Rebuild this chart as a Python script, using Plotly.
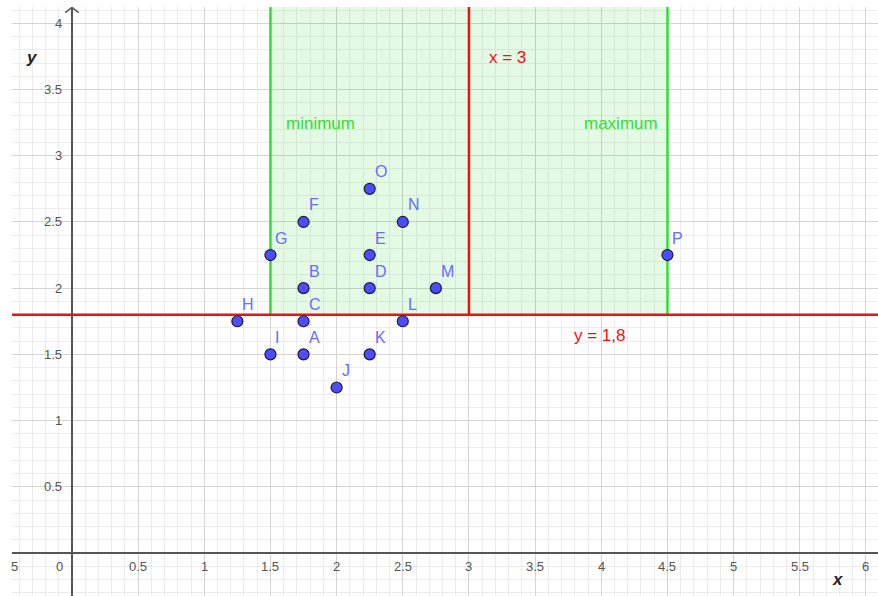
import plotly.graph_objects as go

# ---- data ----
point_names = ["A", "B", "C", "D", "E", "F", "G", "H", "I", "J", "K", "L", "M", "N", "O", "P"]
point_x = [1.75, 1.75, 1.75, 2.25, 2.25, 1.75, 1.5, 1.25, 1.5, 2.0, 2.25, 2.5, 2.75, 2.5, 2.25, 4.5]
point_y = [1.5, 2.0, 1.75, 2.0, 2.25, 2.5, 2.25, 1.75, 1.5, 1.25, 1.5, 1.75, 2.0, 2.5, 2.75, 2.25]

x_minimum = 1.5
x_maximum = 4.5
x_line = 3.0
y_line = 1.8

x_tick_vals = [0.5, 1, 1.5, 2, 2.5, 3, 3.5, 4, 4.5, 5, 5.5, 6]
x_tick_text = ["0.5", "1", "1.5", "2", "2.5", "3", "3.5", "4", "4.5", "5", "5.5", "6"]
y_tick_vals = [0.5, 1, 1.5, 2, 2.5, 3, 3.5, 4]
y_tick_text = ["0.5", "1", "1.5", "2", "2.5", "3", "3.5", "4"]
edge_tick_text = "5"   # visible tail of the "-0.5" label cut by the view edge

X_RANGE = [-0.453, 6.091]
Y_RANGE = [-0.3245, 4.123]
TOP = 10

GREEN = "#33dd33"
RED = "#ee1111"
FONT = "Liberation Sans"

fig = go.Figure()

# shaded region
fig.add_trace(go.Scatter(
    x=[x_minimum, x_maximum, x_maximum, x_minimum],
    y=[y_line, y_line, TOP, TOP],
    fill="toself", fillcolor="rgba(0,210,0,0.10)",
    line=dict(width=0), mode="lines", hoverinfo="skip", showlegend=False))

# green vertical lines
for xv in [x_minimum, x_maximum]:
    fig.add_trace(go.Scatter(x=[xv, xv], y=[y_line, TOP], mode="lines",
                             line=dict(color=GREEN, width=2.5), showlegend=False, hoverinfo="skip"))
# red x = 3
fig.add_trace(go.Scatter(x=[x_line, x_line], y=[y_line, TOP], mode="lines",
                         line=dict(color=RED, width=2.5), showlegend=False, hoverinfo="skip"))
# red y = 1.8
fig.add_trace(go.Scatter(x=[X_RANGE[0] - 1, X_RANGE[1] + 1], y=[y_line, y_line], mode="lines",
                         line=dict(color=RED, width=2.5), showlegend=False, hoverinfo="skip"))

# y-axis arrow
fig.add_trace(go.Scatter(x=[-0.05, 0, 0.05], y=[4.08, 4.12, 4.08], mode="lines",
                         line=dict(color="#555555", width=1.5), showlegend=False, hoverinfo="skip"))

# points
fig.add_trace(go.Scatter(
    x=point_x, y=point_y, mode="markers",
    marker=dict(size=11, color="#4d4dff", line=dict(color="#1a1a33", width=1.2)),
    showlegend=False, hoverinfo="skip"))

annotations = []
for n, xv, yv in zip(point_names, point_x, point_y):
    annotations.append(dict(x=xv, y=yv, text=n, showarrow=False, xref="x", yref="y",
                            xanchor="left", yanchor="middle", xshift=3, yshift=17,
                            font=dict(family=FONT, size=16, color="#6b6bff")))

TICK_FONT = dict(family=FONT, size=13, color="#555555")
for v, t in zip(x_tick_vals, x_tick_text):
    annotations.append(dict(x=v, y=0, text=t, showarrow=False, xref="x", yref="y",
                            xanchor="center", yanchor="middle", yshift=-13, font=TICK_FONT))
annotations.append(dict(x=X_RANGE[0] + 0.001, y=0, text=edge_tick_text, showarrow=False,
                        xref="x", yref="y", xanchor="right", yanchor="middle",
                        xshift=8, yshift=-13, font=TICK_FONT))
annotations.append(dict(x=0, y=0, text="0", showarrow=False, xref="x", yref="y",
                        xanchor="center", yanchor="middle", xshift=-12, yshift=-13, font=TICK_FONT))
for v, t in zip(y_tick_vals, y_tick_text):
    annotations.append(dict(x=0, y=v, text=t, showarrow=False, xref="x", yref="y",
                            xanchor="right", yanchor="middle", xshift=-8, font=TICK_FONT))

# axis names
annotations.append(dict(x=-0.3, y=3.74, text="<b><i>y</i></b>", showarrow=False, xref="x", yref="y",
                        font=dict(family=FONT, size=17, color="#222222")))
annotations.append(dict(x=5.79, y=-0.2, text="<b><i>x</i></b>", showarrow=False, xref="x", yref="y",
                        font=dict(family=FONT, size=17, color="#222222")))

# region / line labels
LBL = 17
annotations.append(dict(x=1.6, y=3.24, text="minimum", showarrow=False, xref="x", yref="y",
                        xanchor="left", font=dict(family=FONT, size=LBL, color=GREEN)))
annotations.append(dict(x=3.855, y=3.24, text="maximum", showarrow=False, xref="x", yref="y",
                        xanchor="left", font=dict(family=FONT, size=LBL, color=GREEN)))
annotations.append(dict(x=3.14, y=3.74, text="x = 3", showarrow=False, xref="x", yref="y",
                        xanchor="left", font=dict(family=FONT, size=LBL, color=RED)))
annotations.append(dict(x=3.78, y=1.64, text="y = 1,8", showarrow=False, xref="x", yref="y",
                        xanchor="left", font=dict(family=FONT, size=LBL, color=RED)))

axis_common = dict(
    showticklabels=False, ticks="", showline=False,
    showgrid=True, gridcolor="#d4d4d4", gridwidth=1, dtick=0.5, tick0=0,
    zeroline=True, zerolinecolor="#555555", zerolinewidth=1.5,
    minor=dict(showgrid=True, gridcolor="#ececec", gridwidth=1, dtick=0.1, tick0=0),
    fixedrange=True,
)

fig.update_layout(
    width=878, height=596,
    margin=dict(l=12, r=0, t=7, b=0),
    paper_bgcolor="white", plot_bgcolor="white",
    xaxis=dict(range=X_RANGE, **axis_common),
    yaxis=dict(range=Y_RANGE, **axis_common),
    annotations=annotations,
    showlegend=False,
)

fig.write_html("out.html", config={"displayModeBar": False},
               post_script="document.body.style.margin='0';document.body.style.overflow='hidden';")
